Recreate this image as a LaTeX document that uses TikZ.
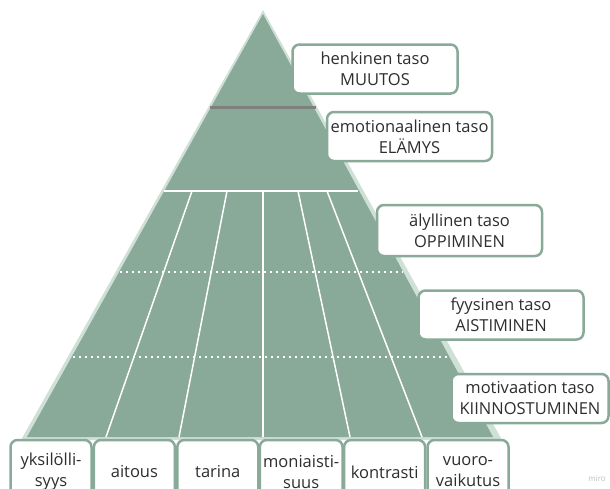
\documentclass[tikz,border=0pt]{standalone}
\usepackage{fontspec}
\setmainfont{Open Sans}
\usetikzlibrary{positioning}
\definecolor{pyramidGreen}{HTML}{89A999}
\definecolor{pyramidLight}{HTML}{CFE0D7}
\definecolor{textGray}{HTML}{2E2E2E}
\definecolor{lineGray}{HTML}{7F817F}
\tikzset{%
  % Specifications for style of nodes:
        base/.style = {rectangle, rounded corners=7pt, draw=pyramidGreen,
                       line width=2.5pt, fill=white, text=textGray,
                       align=center, font=\fontsize{16.5}{21}\selectfont},
    levelBox/.style = {base, minimum width=165pt, minimum height=49pt},
   factorBox/.style = {base, minimum width=81pt, minimum height=64pt},
  % Specifications for style of lines:
     divider/.style = {draw=white, line width=1.5pt},
     dotLine/.style = {draw=white, line width=2.2pt, dash pattern=on 2.2pt off 3.8pt},
}

\begin{document}
\begin{tikzpicture}[x=1pt, y=-1pt, node distance=83.4pt]
  \useasboundingbox (0,0) rectangle (610,488);
  \clip (0,0) rectangle (610,488);
  % Pyramid
  \fill[pyramidLight] (263,10) -- (21,440) -- (502,440) -- cycle;
  \fill[pyramidGreen] (263,14) -- (27,437) -- (493,437) -- cycle;
  \draw[lineGray, line width=3pt] (210,107) -- (316,107);
  \draw[white, line width=2pt] (164,191) -- (358,191);
  \draw[dotLine] (120,272) -- (403,272);
  \draw[dotLine] (73,357) -- (449,357);
  \draw[divider] (192,191) -- (106,437);
  \draw[divider] (227,191) -- (179,437);
  \draw[divider] (263,191) -- (263,437);
  \draw[divider] (298,191) -- (350,437);
  \draw[divider] (327,191) -- (422,437);
  % Specification of nodes (position, etc.)
  \node (henkinenBlock) [levelBox] at (375,69) {henkinen taso\\MUUTOS};
  \node (emotionaalinenBlock) [levelBox] at (409.5,136.5) {emotionaalinen taso\\ELÄMYS};
  \node (alyllinenBlock) [levelBox, minimum height=51pt] at (459.5,230.5) {älyllinen taso\\OPPIMINEN};
  \node (fyysinenBlock) [levelBox] at (501,315) {fyysinen taso\\AISTIMINEN};
  \node (motivaatioBlock) [levelBox, minimum width=157pt] at (530,398.5) {motivaation taso\\KIINNOSTUMINEN};
  \node (yksilollisyysBlock) [factorBox] at (51,472) {yksilölli-\\syys};
  \node (aitousBlock) [factorBox, right of=yksilollisyysBlock] {aitous};
  \node (tarinaBlock) [factorBox, right of=aitousBlock] {tarina};
  \node (moniaistisuusBlock) [factorBox, right of=tarinaBlock] {moniaisti-\\suus};
  \node (kontrastiBlock) [factorBox, right of=moniaistisuusBlock] {kontrasti};
  \node (vuorovaikutusBlock) [factorBox, right of=kontrastiBlock] {vuoro-\\vaikutus};
  \node (miroMark) [text=black!25, font=\fontsize{8}{8}\selectfont] at (597,479) {miro};
\end{tikzpicture}
\end{document}
